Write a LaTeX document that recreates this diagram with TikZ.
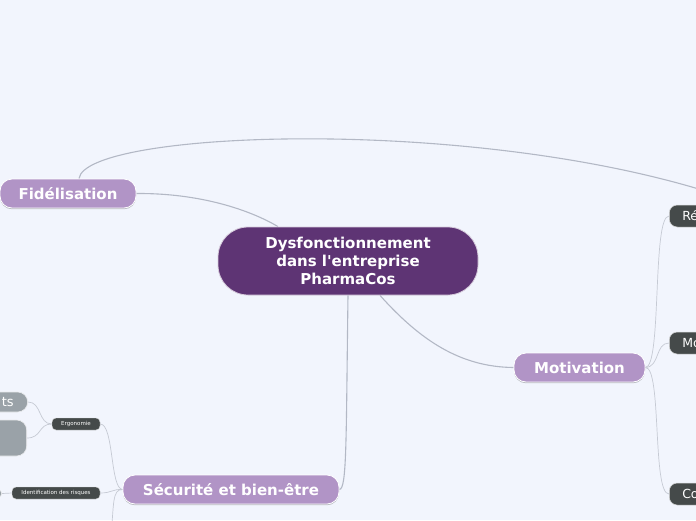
\documentclass[tikz,border=0pt]{standalone}
\usepackage{fontspec}
\setmainfont{DejaVu Sans}[Ligatures=TeXOff]
\usetikzlibrary{shadows,backgrounds}
\definecolor{paperbg}{HTML}{F2F5FD}
\definecolor{root}{HTML}{5E3474}
\definecolor{topic}{HTML}{B194C6}
\definecolor{sub}{HTML}{454A4A}
\definecolor{leaf}{HTML}{9AA2A8}
\definecolor{wire}{HTML}{B3B8C5}
\definecolor{wire2}{HTML}{C6CAD4}
\pgfdeclarelayer{paper}
\pgfsetlayers{paper,background,main}
\tikzset{
  rootnode/.style={fill=root, draw=white!75!root, line width=0.8pt, rounded corners=30pt,
                   text=white, align=center, font=\fontsize{15}{18}\selectfont\bfseries,
                   minimum width=260pt, minimum height=68pt, inner sep=0pt},
  topicnode/.style={fill=topic, draw=white, line width=0.8pt, rounded corners=12pt,
                    text=white, font=\fontsize{15}{18}\selectfont\bfseries,
                    minimum height=29pt, inner sep=0pt,
                    drop shadow={shadow xshift=0pt, shadow yshift=-1.2pt, opacity=0.25, fill=black}},
  subnode/.style={fill=sub, draw=white!80!sub, line width=0.5pt, rounded corners=8pt,
                  text=white, font=\fontsize{12.5}{15}\selectfont, anchor=west,
                  minimum height=22pt, inner ysep=0pt, inner xsep=13pt},
  tinynode/.style={fill=sub, draw=white!80!sub, line width=0.4pt, rounded corners=4pt,
                   text=white, font=\fontsize{5.5}{6.6}\selectfont,
                   minimum height=12pt, inner sep=0pt},
  leafnode/.style={fill=leaf, draw=white!80!leaf, line width=0.6pt, rounded corners=10pt,
                   text=white, font=\fontsize{13}{15}\selectfont, anchor=east,
                   inner ysep=0pt, inner xsep=14pt},
  % ---- connectors ----
  link/.style={draw=wire, line width=1.1pt},
  twig/.style={draw=wire2, line width=0.7pt},
}

\begin{document}
\begin{tikzpicture}[x=1pt,y=-1pt]
\begin{pgfonlayer}{paper}
  \fill[paperbg] (0,0) rectangle (696,520);
\end{pgfonlayer}
\useasboundingbox (0,0) rectangle (696,520);
% central topic
\node[rootnode] (ctr) at (348,261) {Dysfonctionnement\\ dans l'entreprise\\ PharmaCos};
% main topics
\node[topicnode, minimum width=136pt] (fid)   at (68,193.5)  {Fidélisation};
\node[topicnode, minimum width=131pt] (motiv) at (579.5,367.5) {Motivation};
\node[topicnode, minimum width=216pt] (secu)  at (231,489.5)  {Sécurité et bien-être};
% subtopics (Motivation)
\node[subnode] (rec) at (669,216) {Ré};
\node[subnode] (mo)  at (669,343) {Mo};
\node[subnode] (co)  at (669,494) {Co};
% subtopics (Sécurité)
\node[tinynode, minimum width=48pt] (ergo)  at (76,424) {Ergonomie};
\node[tinynode, minimum width=88pt] (ident) at (56,493) {Identification des risques};
\node[leafnode, minimum height=20pt] (leafA) at (28,402) {ts};
\node[leafnode, minimum height=36pt, minimum width=60pt] (leafB) at (27,438) {};
\node[leafnode, minimum height=8pt, minimum width=20pt, rounded corners=4pt] (leafC) at (2,493.5) {};
% free ends off the page
\coordinate (farR)  at (724,197);
\coordinate (downS) at (111,535);
\begin{scope}[on background layer]
  \draw[link] ([xshift=11pt]fid.north) .. controls (85,130) and (480,115) .. (farR);
  \draw[link] (fid.east) .. controls (200,193) and (250,210) .. ([xshift=-70pt]ctr.north);
  \draw[link] (ctr.south) .. controls (346,440) and (347,489) .. (secu.east);
  \draw[link] ([xshift=32pt]ctr.south) .. controls (420,340) and (460,367) .. (motiv.west);
  % Motivation branches
  \draw[twig] (motiv.east) .. controls (662,367) and (652,216) .. (rec.west);
  \draw[twig] (motiv.east) .. controls (660,367) and (655,343) .. (mo.west);
  \draw[twig] (motiv.east) .. controls (662,367) and (652,494) .. (co.west);
  % Sécurité branches
  \draw[twig] (secu.west) .. controls (110,489) and (114,424) .. (ergo.east);
  \draw[twig] (secu.west) .. controls (112,489) and (112,493) .. (ident.east);
  \draw[twig] (secu.west) .. controls (112,489) and (114,505) .. (downS);
  \draw[twig] (ergo.west) .. controls (38,424) and (42,402) .. (leafA.east);
  \draw[twig] (ergo.west) .. controls (38,424) and (42,438) .. (leafB.east);
  \draw[twig] (ident.west) -- (leafC.east);
\end{scope}
\end{tikzpicture}
\end{document}
